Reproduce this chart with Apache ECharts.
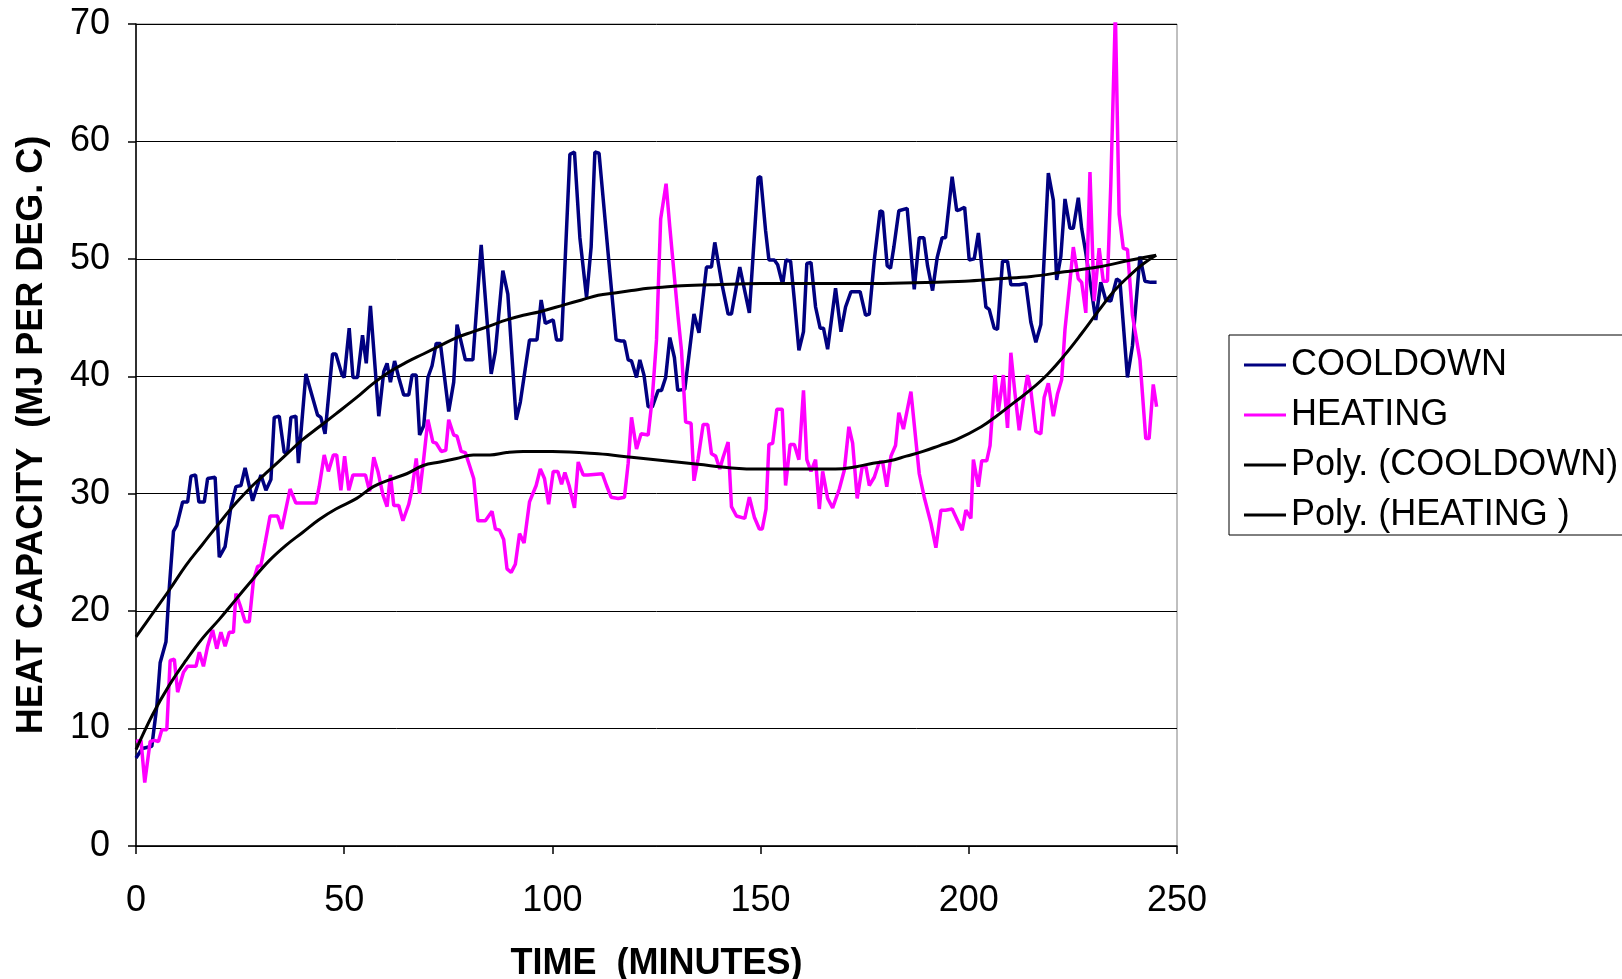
<!DOCTYPE html>
<html>
<head>
<meta charset="utf-8">
<title>Heat capacity</title>
<script src="https://cdn.jsdelivr.net/npm/echarts@6/dist/echarts.min.js"></script>
<style>
  html, body { margin: 0; padding: 0; background: #fff; }
  #heatChart { width: 1622px; height: 979px; }
</style>
</head>
<body>
<!-- 图表容器 -->
<div id="heatChart"></div>
<script>
// x axis ticks
var timeTicks = [0, 50, 100, 150, 200, 250];
var capacityTicks = [0, 10, 20, 30, 40, 50, 60, 70];

// COOLDOWN (minutes / MJ per deg C)
var cooldownTime = [0, 1.5, 3.8, 5, 5.8, 7.2, 8, 9, 9.8, 11.2, 12.4, 13.2, 14.3, 15.1, 16.4, 17.2, 19, 20, 21.4, 22.8,
  24, 25.2, 26.2, 28, 30, 31.2, 32.4, 33.2, 34.4, 35.6, 36.4, 37.2, 38.4, 39, 40.8, 43.6, 44.4, 45.4, 47.2, 48,
  49.5, 50, 51.2, 52.1, 53.2, 54.4, 55.3, 56.3, 58.3, 59.5, 60.3, 61.1, 62.1, 63.1, 64.3, 65.5, 66.3, 67.3, 68.1, 69.1,
  70.1, 71.1, 72.1, 73.1, 75.1, 76.3, 77.1, 79.1, 80.9, 82.9, 85.3, 86.3, 88.1, 89.3, 91.3, 92.3, 94.5, 96.3, 97.3, 98.3,
  99.5, 100.2, 101, 102.2, 104.2, 105.3, 106.6, 108.2, 109.3, 110.2, 111.2, 113.4, 115.3, 116.5, 117.3, 118.2, 119, 120.2, 121, 122,
  123, 124, 125.4, 126.2, 127.2, 128.2, 129.3, 130.1, 131.8, 134, 135.2, 137, 138.2, 139, 140.8, 142.2, 143, 145, 147.3, 149.4,
  150, 151.2, 152, 153.3, 154.1, 155.3, 156.1, 157.2, 158.1, 159.2, 160.3, 161.1, 162.1, 163.2, 164.3, 165.1, 166.1, 168, 169.3, 170.4,
  171.7, 173.9, 175.2, 176.1, 177.3, 178.7, 179.3, 180.4, 181.2, 182, 183.2, 185.2, 186.9, 188.1, 189.2, 190.1, 191.3, 192.4, 193.6, 194.4,
  196, 197.1, 197.9, 199, 200.1, 201.3, 202.3, 203.3, 204.1, 204.9, 206.1, 206.9, 208.1, 209.3, 210.1, 212.1, 213.7, 214.9, 216.1, 217.3,
  219.1, 220.3, 221.1, 222.1, 223.1, 224.3, 225.1, 226.3, 227.1, 228.1, 230.5, 231.7, 232.9, 234.1, 235.5, 236.3, 238.1, 239.3, 241.1, 242.3,
  243.7, 245.1];
var cooldownValue = [7.5, 8.3, 8.5, 11.9, 15.6, 17.4, 22, 26.8, 27.3, 29.3, 29.3, 31.5, 31.6, 29.3, 29.3, 31.3, 31.4, 24.6, 25.5, 28.9,
  30.6, 30.7, 32.2, 29.4, 31.6, 30.3, 31.2, 36.5, 36.6, 33.5, 33.5, 36.5, 36.6, 32.6, 40.2, 36.7, 36.5, 35.1, 41.9, 41.9,
  40.1, 39.9, 44.1, 39.9, 39.9, 43.5, 41.1, 46.0, 36.6, 40.4, 41.1, 39.5, 41.3, 39.9, 38.4, 38.4, 40.1, 40.1, 35.0, 35.8,
  39.9, 40.9, 42.8, 42.8, 37.0, 39.5, 44.4, 41.4, 41.4, 51.2, 40.2, 42.1, 49.0, 47.0, 36.3, 37.8, 43.1, 43.1, 46.5, 44.5,
  44.7, 44.8, 43.1, 43.1, 58.9, 59.1, 51.8, 46.7, 51.0, 59.1, 59.0, 50.4, 43.1, 43.0, 43.0, 41.4, 41.3, 39.9, 41.4, 40.1,
  37.4, 37.4, 38.8, 38.8, 39.9, 43.3, 41.6, 38.8, 38.9, 45.3, 43.7, 49.3, 49.3, 51.4, 47.7, 45.3, 45.3, 49.3, 45.4, 56.9,
  57.0, 52.4, 49.9, 49.9, 49.5, 47.8, 49.9, 49.8, 46.5, 42.2, 43.8, 49.6, 49.7, 45.9, 44.1, 44.1, 42.3, 47.5, 43.8, 45.9,
  47.2, 47.2, 45.2, 45.3, 49.9, 54.1, 54.0, 49.4, 49.2, 51.0, 54.1, 54.3, 47.4, 51.8, 51.8, 49.4, 47.3, 50.1, 51.8, 51.8,
  57.0, 54.1, 54.2, 54.4, 49.9, 50.0, 52.2, 48.7, 45.9, 45.7, 44.1, 44.0, 49.8, 49.8, 47.8, 47.8, 47.9, 44.6, 42.9, 44.4,
  57.3, 55.0, 48.2, 50.2, 55.1, 52.6, 52.6, 55.2, 52.6, 50.5, 44.8, 48.0, 46.5, 46.4, 48.3, 48.1, 39.9, 42.6, 50.2, 48.1,
  48.0, 48.0];

// HEATING
var heatingTime = [0, 1.2, 2.1, 3.4, 4.4, 5.4, 6.2, 7.4, 8.2, 9.2, 10, 11.4, 12.4, 14.4, 15.2, 16.2, 17.2, 18.4, 19.4, 20.4,
  21.4, 22.4, 23.4, 24, 25, 26.2, 27.2, 28.2, 29.2, 30, 31, 32.2, 34, 35, 37, 38.4, 40.2, 43.2, 44, 45.2,
  46.2, 47.4, 48.2, 49.2, 50.1, 51.1, 52.1, 55.1, 56.1, 57.1, 58.1, 59.3, 60.3, 61.1, 61.9, 63.1, 64.1, 65.5, 66.3, 67.3,
  68.1, 69.1, 70.1, 71.3, 72.1, 73.3, 74.4, 75.1, 76.3, 77.1, 78.1, 79.1, 80.1, 81.1, 82.1, 83.9, 85.5, 86.3, 87.3, 88.3,
  89.1, 90.1, 91.1, 92.1, 93.2, 94.5, 96.1, 97.1, 98.1, 99.1, 100.2, 101.3, 102.2, 103, 104, 105.3, 106.2, 107.4, 108.5, 112,
  113, 114.1, 115.8, 117.3, 118.2, 119, 120.2, 121.3, 123, 124, 125, 126, 127.3, 128.2, 129, 130.2, 131, 132, 133.3, 134,
  135, 136.2, 137.3, 138.2, 139.2, 140.2, 141, 142.2, 143, 144.2, 146.2, 147.3, 148.5, 149.7, 150.4, 151.3, 152, 152.9, 153.9, 155.2,
  156, 157.1, 158.1, 159.2, 160.3, 161.1, 162.1, 163.2, 164.1, 164.9, 166.1, 167.3, 168.9, 170.1, 171.2, 172.1, 173.2, 174.4, 175.3, 176.1,
  177.3, 178.5, 179.3, 180.3, 181.3, 182.4, 183.2, 184.3, 186.1, 188.1, 189.3, 190.9, 192.1, 193.3, 194.4, 196, 197.3, 198.4, 199.3, 200.5,
  201.1, 202.3, 203.1, 204.3, 205.1, 206.3, 207.1, 208.3, 209.3, 210.1, 211.1, 212.1, 213.1, 214.1, 214.9, 216.1, 217.3, 218.1, 219.1, 220.3,
  221.3, 222.3, 223.1, 224.3, 225.1, 226.3, 227.1, 228.1, 229.1, 230.1, 231.3, 232.3, 233.3, 234.1, 235.2, 236.1, 237.1, 238.1, 239.3, 241.1,
  242.5, 243.3, 244.3, 245.1];
var heatingValue = [8.9, 9.0, 5.4, 8.9, 9.0, 8.9, 9.9, 9.9, 15.8, 15.9, 13.1, 14.8, 15.3, 15.3, 16.5, 15.3, 17.0, 18.4, 16.8, 18.2,
  17.0, 18.2, 18.2, 21.5, 20.5, 19.1, 19.1, 22.6, 23.8, 23.9, 25.8, 28.1, 28.1, 27.0, 30.4, 29.2, 29.2, 29.2, 30.6, 33.3,
  31.9, 33.3, 33.3, 30.3, 33.2, 30.3, 31.6, 31.6, 30.2, 33.1, 31.9, 29.9, 28.9, 31.6, 29.0, 29.0, 27.7, 29.1, 30.4, 33.0,
  30.0, 33.0, 36.3, 34.4, 34.3, 33.6, 33.7, 36.3, 35.0, 34.9, 33.6, 33.5, 32.4, 31.3, 27.7, 27.7, 28.5, 27.0, 26.9, 26.1,
  23.6, 23.3, 24.0, 26.6, 25.8, 29.3, 30.7, 32.1, 31.3, 29.1, 31.9, 31.9, 30.8, 31.8, 30.7, 28.8, 32.7, 31.6, 31.6, 31.7,
  30.7, 29.7, 29.6, 29.7, 32.6, 36.5, 33.8, 35.1, 35.0, 38.2, 43.1, 53.4, 56.4, 52.7, 49.6, 45.0, 42.2, 36.1, 36.0, 31.1,
  33.0, 35.9, 35.9, 33.4, 33.2, 32.1, 33.1, 34.4, 28.9, 28.1, 27.9, 29.7, 28.0, 27.0, 27.0, 28.7, 34.2, 34.3, 37.2, 37.2,
  30.7, 34.2, 34.2, 32.9, 38.8, 32.9, 31.9, 32.9, 28.7, 31.9, 29.6, 28.8, 30.4, 32.0, 35.7, 34.3, 29.6, 32.3, 32.3, 30.7,
  31.4, 32.7, 32.7, 30.6, 33.2, 34.1, 36.9, 35.5, 38.7, 31.7, 29.7, 27.5, 25.4, 28.6, 28.6, 28.7, 27.7, 26.9, 28.6, 27.9,
  32.9, 30.6, 32.8, 32.8, 34.1, 40.1, 37.0, 40.1, 35.6, 42.0, 38.5, 35.4, 37.9, 40.1, 38.8, 35.3, 35.1, 38.2, 39.4, 36.6,
  38.5, 39.7, 44.0, 48.1, 51.0, 48.3, 48.0, 45.4, 57.4, 46.4, 50.9, 48.1, 48.1, 56.3, 71, 53.8, 50.9, 50.8, 45.2, 41.4,
  34.7, 34.7, 39.3, 37.4];

// Poly. trendlines
var polyCoolTime = [0, 4, 8, 12, 16, 20, 24, 28, 32, 36, 40, 44, 48, 53, 57, 61, 65, 69, 73, 77,
  81, 85, 89, 93, 97, 103, 107, 111, 115, 119, 123, 127, 131, 139, 150, 175, 199, 207, 215, 223,
  231, 239, 245];
var polyCoolValue = [17.8, 19.8, 21.8, 23.9, 25.7, 27.5, 29.2, 30.7, 32.0, 33.3, 34.6, 35.7, 36.8, 38.2, 39.4, 40.4, 41.2, 41.9, 42.6, 43.3,
  43.8, 44.3, 44.8, 45.2, 45.5, 46.1, 46.5, 46.9, 47.1, 47.3, 47.5, 47.6, 47.7, 47.8, 47.9, 47.9, 48.1, 48.3, 48.5, 48.9,
  49.3, 49.9, 50.3];
var polyHeatTime = [0, 4, 8, 12, 16, 20, 24, 28, 32, 36, 40, 44, 48, 53, 57, 61, 65, 69, 73, 77,
  81, 85, 89, 93, 100, 111, 119, 127, 135, 143, 150, 157, 168, 173, 177, 181, 185, 189, 193, 197,
  203, 207, 211, 215, 219, 223, 227, 231, 235, 239, 242, 245];
var polyHeatValue = [8.2, 11.2, 13.7, 15.8, 17.7, 19.3, 21.0, 22.7, 24.3, 25.6, 26.7, 27.8, 28.7, 29.6, 30.6, 31.2, 31.7, 32.4, 32.7, 33.0,
  33.3, 33.3, 33.5, 33.6, 33.6, 33.4, 33.1, 32.8, 32.5, 32.2, 32.1, 32.1, 32.1, 32.3, 32.6, 32.8, 33.2, 33.6, 34.1, 34.6,
  35.7, 36.7, 37.8, 38.9, 40.2, 41.8, 43.6, 45.5, 47.3, 48.7, 49.6, 50.3];

function pairs(xs, ys) {
  var out = [];
  for (var i = 0; i < xs.length; i++) out.push([xs[i], ys[i]]);
  return out;
}

var FONT = "'Liberation Sans', Arial, sans-serif";
var FS = 36; // 字号

var myChart = echarts.init(document.getElementById("heatChart"));

var option = {
  animation: false,
  backgroundColor: "#fff",
  textStyle: { fontFamily: FONT, color: "#000" },
  grid: {
    left: 136,
    top: 24,
    width: 1041,
    height: 822,
    show: true,
    borderColor: "#808080",
    borderWidth: 1,
    containLabel: false,
    outerBoundsMode: "none", // 不要自动压缩绘图区
  },
  legend: {
    orient: "vertical",
    left: 1229,
    top: 335,
    padding: [10, 12, 0, 15],
    itemGap: 10,
    itemWidth: 42,
    itemHeight: 3,
    icon: "rect",
    borderColor: "#000",
    borderWidth: 1,
    backgroundColor: "#fff",
    textStyle: { fontFamily: FONT, fontSize: FS, lineHeight: 40, color: "#000" },
    data: ["COOLDOWN", "HEATING", "Poly. (COOLDOWN)", "Poly. (HEATING )"],
  },
  xAxis: {
    type: "value",
    min: timeTicks[0],
    max: timeTicks[timeTicks.length - 1],
    interval: timeTicks[1] - timeTicks[0],
    name: "TIME  (MINUTES)",
    nameLocation: "middle",
    nameGap: 100,
    nameTextStyle: { fontFamily: FONT, fontSize: FS, fontWeight: "bold", color: "#000" },
    axisLine: { onZero: false, lineStyle: { color: "#000", width: 1.5 } },
    axisTick: { show: true, inside: false, length: 8, lineStyle: { color: "#000", width: 1.5 } },
    axisLabel: { fontFamily: FONT, fontSize: FS, color: "#000", margin: 37 },
    splitLine: { show: false },
  },
  yAxis: {
    type: "value",
    min: capacityTicks[0],
    max: capacityTicks[capacityTicks.length - 1],
    interval: capacityTicks[1] - capacityTicks[0],
    name: "HEAT CAPACITY  (MJ PER DEG. C)",
    nameLocation: "middle",
    nameGap: 86,
    nameTextStyle: { fontFamily: FONT, fontSize: FS, fontWeight: "bold", color: "#000" },
    axisLine: { show: true, lineStyle: { color: "#000", width: 1.5 } },
    axisTick: { show: true, inside: false, length: 8, lineStyle: { color: "#000", width: 1.5 } },
    axisLabel: { fontFamily: FONT, fontSize: FS, color: "#000", margin: 26 },
    splitLine: { show: true, lineStyle: { color: "#000", width: 1 } },
  },
  series: [
    {
      name: "COOLDOWN",
      type: "line",
      data: pairs(cooldownTime, cooldownValue),
      showSymbol: false,
      symbol: "none",
      itemStyle: { color: "#000080" },
      lineStyle: { color: "#000080", width: 3.5 },
      z: 2,
    },
    {
      name: "HEATING",
      type: "line",
      data: pairs(heatingTime, heatingValue),
      showSymbol: false,
      symbol: "none",
      clip: true,
      itemStyle: { color: "#ff00ff" },
      lineStyle: { color: "#ff00ff", width: 3.5 },
      z: 3,
    },
    {
      name: "Poly. (COOLDOWN)",
      type: "line",
      data: pairs(polyCoolTime, polyCoolValue),
      showSymbol: false,
      symbol: "none",
      smooth: 0.4,
      itemStyle: { color: "#000" },
      lineStyle: { color: "#000", width: 3 },
      z: 4,
    },
    {
      name: "Poly. (HEATING )",
      type: "line",
      data: pairs(polyHeatTime, polyHeatValue),
      showSymbol: false,
      symbol: "none",
      smooth: 0.4,
      itemStyle: { color: "#000" },
      lineStyle: { color: "#000", width: 3 },
      z: 4,
    },
  ],
};

myChart.setOption(option);
</script>
</body>
</html>
